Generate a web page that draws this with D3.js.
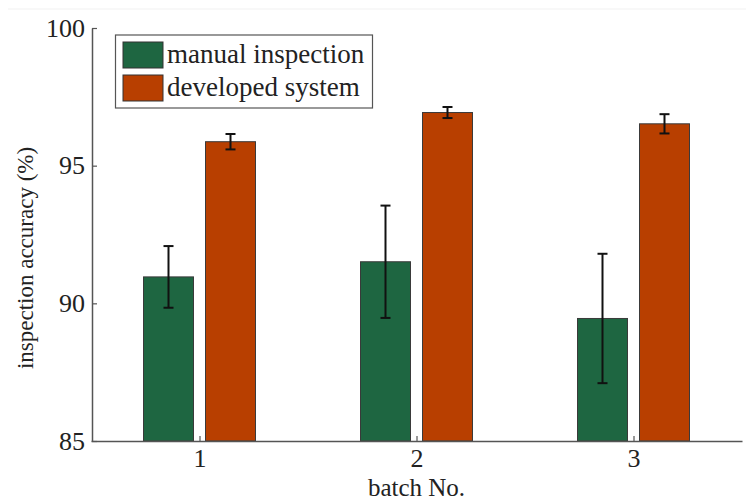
<!DOCTYPE html>
<html lang="en">
<head>
    <meta charset="UTF-8">
    <title>inspection accuracy</title>
    <script src="https://cdn.jsdelivr.net/npm/d3@7/dist/d3.min.js"></script>
    <style>
        body { margin: 0; background: #fff; }
    </style>
</head>
<body>
<script type="application/javascript">

    let w = 746, h = 502;
    let serif = 'Liberation Serif, Times New Roman, serif';

    // data
    let batches = [1, 2, 3];
    let seriesNames = ['manual inspection', 'developed system'];
    let manual = [90.96, 91.51, 89.45];
    let manualErr = [1.12, 2.04, 2.35];
    let developed = [95.87, 96.93, 96.52];
    let developedErr = [0.28, 0.2, 0.35];
    let yTicks = [85, 90, 95, 100];

    let colors = ['#1e6641', '#b83f00'];

    let margin = {left: 92, right: 4, top: 28, bottom: 61};

    let x = d3.scaleLinear()
        .domain([0.5, 3.5])
        .range([margin.left - 1, w - margin.right]);

    let y = d3.scaleLinear()
        .domain([85, 100])
        .range([h - margin.bottom, margin.top]);

    let svg = d3.select('body')
        .append('svg')
        .attr('width', w)
        .attr('height', h);

    // faint frame line at the top of the picture
    svg.append('line')
        .attr('x1', 8).attr('x2', w)
        .attr('y1', 9).attr('y2', 9)
        .attr('stroke', '#f1f1f1');

    let barW = 50, offset = 31;

    let rows = batches.map((b, i) => [
        {b: b, s: 0, v: manual[i], e: manualErr[i]},
        {b: b, s: 1, v: developed[i], e: developedErr[i]}
    ]).flat();

    let bars = svg.selectAll('g.bar')
        .data(rows)
        .enter()
        .append('g')
        .attr('class', 'bar');

    bars.append('rect')
        .attr('x', d => x(d.b) + (d.s === 0 ? -offset : offset) - barW / 2)
        .attr('y', d => y(d.v))
        .attr('width', barW)
        .attr('height', d => y(85) - y(d.v))
        .attr('fill', d => colors[d.s])
        .attr('stroke', '#3a3a3a')
        .attr('stroke-width', 1);

    // error bars
    let cx = d => x(d.b) + (d.s === 0 ? -offset : offset);
    bars.append('line')
        .attr('x1', cx).attr('x2', cx)
        .attr('y1', d => y(d.v + d.e))
        .attr('y2', d => y(d.v - d.e))
        .attr('stroke', '#111')
        .attr('stroke-width', 2);
    bars.append('line')
        .attr('x1', d => cx(d) - 5).attr('x2', d => cx(d) + 5)
        .attr('y1', d => y(d.v + d.e)).attr('y2', d => y(d.v + d.e))
        .attr('stroke', '#111')
        .attr('stroke-width', 2);
    bars.append('line')
        .attr('x1', d => cx(d) - 5).attr('x2', d => cx(d) + 5)
        .attr('y1', d => y(d.v - d.e)).attr('y2', d => y(d.v - d.e))
        .attr('stroke', '#111')
        .attr('stroke-width', 2);

    // axes, ticks pointing inwards
    let xAxis = d3.axisBottom(x)
        .tickValues(batches)
        .tickFormat(d3.format('d'))
        .tickSizeInner(-5)
        .tickSizeOuter(0)
        .tickPadding(8);

    let yAxis = d3.axisLeft(y)
        .tickValues(yTicks)
        .tickSizeInner(-5)
        .tickSizeOuter(0)
        .tickPadding(7);

    let gx = svg.append('g')
        .attr('transform', 'translate(0,' + y(85) + ')')
        .call(xAxis);
    let gy = svg.append('g')
        .attr('transform', 'translate(' + (margin.left) + ',0)')
        .call(yAxis);

    [gx, gy].forEach(g => {
        g.attr('font-family', serif);
        g.select('.domain').attr('stroke', '#555').attr('stroke-width', 1.5);
        g.selectAll('.tick line').attr('stroke', '#555').attr('stroke-width', 1.2);
        g.selectAll('.tick text')
            .attr('font-size', 26)
            .attr('fill', '#222');
    });

    // axis titles, grouped so the font is set the same way as on the axes
    let titles = svg.append('g')
        .attr('font-family', serif)
        .attr('fill', '#222');

    titles.append('text')
        .attr('x', x(2))
        .attr('y', 496)
        .attr('text-anchor', 'middle')
        .attr('font-size', 25)
        .text('batch No.');

    titles.append('text')
        .attr('transform', 'translate(33,' + 258 + ') rotate(-90)')
        .attr('text-anchor', 'middle')
        .attr('font-size', 23)
        .text('inspection accuracy (%)');

    // legend
    let legend = svg.append('g')
        .attr('font-family', serif);
    legend.append('rect')
        .attr('x', 115.5).attr('y', 35)
        .attr('width', 257).attr('height', 73)
        .attr('fill', '#fff')
        .attr('stroke', '#555')
        .attr('stroke-width', 1.2);

    seriesNames.forEach((name, i) => {
        legend.append('rect')
            .attr('x', 123).attr('y', 42 + i * 33)
            .attr('width', 40).attr('height', 26)
            .attr('fill', colors[i])
            .attr('stroke', '#333');
        legend.append('text')
            .attr('x', 167).attr('y', 63 + i * 33)
            .attr('font-size', 27)
            .attr('fill', '#222')
            .text(name);
    });

</script>
</body>
</html>
